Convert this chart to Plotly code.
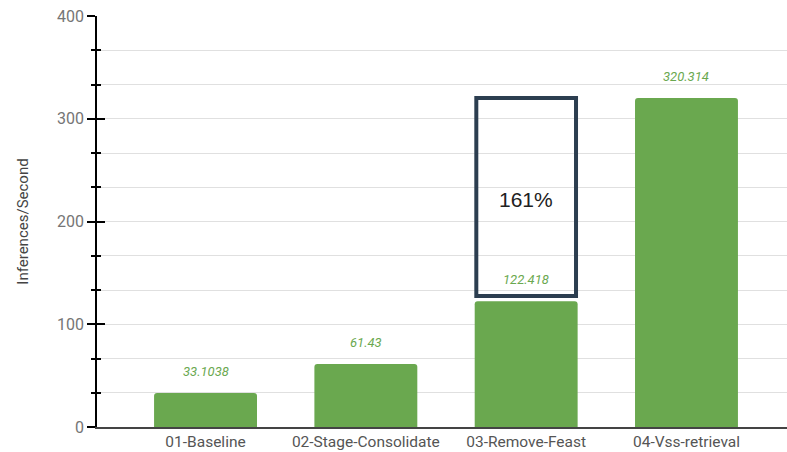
import plotly.graph_objects as go

categories = ["01-Baseline", "02-Stage-Consolidate", "03-Remove-Feast", "04-Vss-retrieval"]
values = [33.1038, 61.43, 122.418, 320.314]
value_labels = ["33.1038", "61.43", "122.418", "320.314"]
y_title = "Inferences/Second"
y_ticks = [0, 100, 200, 300, 400]

BAR_W = 0.642
GREEN = "#6aa84f"
FONT = "Roboto"

fig = go.Figure()
fig.add_trace(go.Bar(
    x=list(range(len(categories))), y=values, width=BAR_W,
    marker=dict(color=GREEN, line=dict(width=0), cornerradius=3),
    hoverinfo="skip", showlegend=False,
))
# invisible trace to anchor the inside-tick overlay axis
fig.add_trace(go.Scatter(x=[0], y=[0], yaxis="y2", mode="markers",
                         marker=dict(opacity=0), showlegend=False, hoverinfo="skip"))

for i, (v, t) in enumerate(zip(values, value_labels)):
    fig.add_annotation(x=i, y=v, xref="x", yref="y", text=f"<i>{t}</i>",
                       showarrow=False, yanchor="bottom", yshift=12,
                       font=dict(family=FONT, size=13, color=GREEN))

# highlight box over bar 3 reaching the level of bar 4
i_box = 2
fig.add_shape(type="rect", xref="x", yref="y",
              x0=i_box - BAR_W / 2 + 0.01, x1=i_box + BAR_W / 2 - 0.01,
              y0=values[i_box] + 5, y1=values[3],
              line=dict(color="#2c3e50", width=4), fillcolor="rgba(0,0,0,0)", layer="above")
pct = int((values[3] / values[i_box] - 1) * 100)
fig.add_annotation(x=i_box, y=(values[i_box] + 5 + values[3]) / 2 - 2, xref="x", yref="y",
                   text=f"{pct}%", showarrow=False,
                   font=dict(family="Liberation Sans", size=21, color="#212121"))

fig.update_layout(
    width=787, height=452,
    margin=dict(l=97, r=0, t=16, b=25),
    paper_bgcolor="white", plot_bgcolor="white",
    font=dict(family=FONT),
    xaxis=dict(
        range=[-0.677, 3.627], tickmode="array",
        tickvals=list(range(len(categories))), ticktext=categories,
        tickfont=dict(family=FONT, size=15.5, color="#555555"),
        showgrid=False, zeroline=False, showline=True, linecolor="#444444", linewidth=1.5,
        ticks="", fixedrange=True,
    ),
    yaxis=dict(
        range=[0, 400], tickvals=y_ticks,
        tickfont=dict(family=FONT, size=16, color="#757575"),
        showgrid=True, gridcolor="#e0e0e0", gridwidth=1.2,
        zeroline=False, showline=True, linecolor="#000000", linewidth=1.5,
        ticks="outside", ticklen=8, tickwidth=1.5, tickcolor="#000000",
        minor=dict(dtick=100 / 3, ticks="outside", ticklen=4, tickwidth=1.5, tickcolor="#000000",
                   showgrid=True, gridcolor="#e0e0e0", gridwidth=1.2),
        title=dict(text=y_title, font=dict(family=FONT, size=15, color="#444444"), standoff=25),
    ),
    yaxis2=dict(
        range=[0, 400], overlaying="y", side="left", tickvals=y_ticks, showticklabels=False,
        showgrid=False, zeroline=False, showline=False,
        ticks="inside", ticklen=8, tickwidth=1.5, tickcolor="#000000",
        minor=dict(dtick=100 / 3, ticks="inside", ticklen=4, tickwidth=1.5, tickcolor="#000000",
                   showgrid=False),
    ),
)

fig.write_html("out.html")
